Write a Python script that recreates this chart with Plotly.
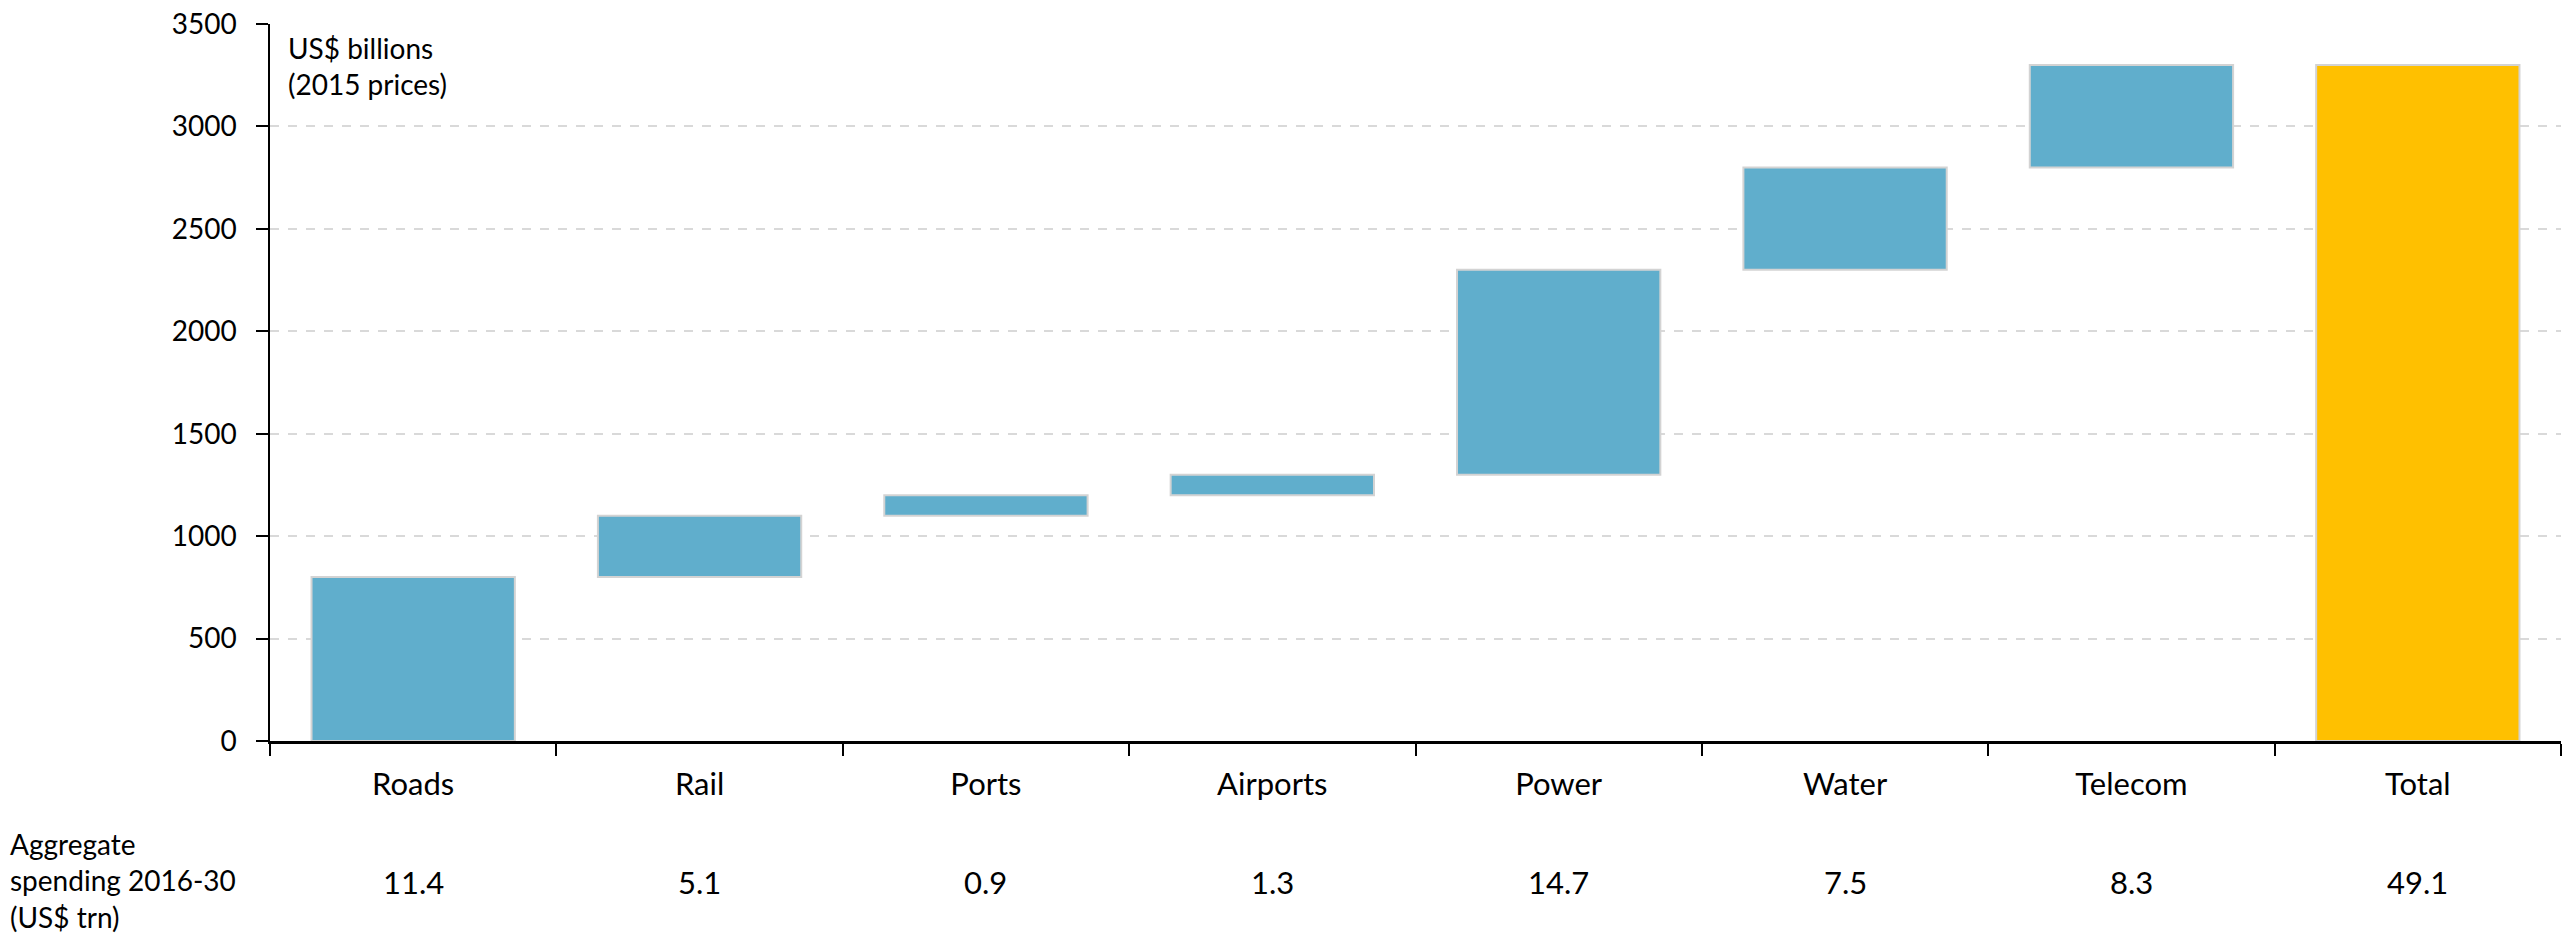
import plotly.graph_objects as go

# Infrastructure investment need by sector (US$ billions, 2015 prices)
categories = ["Roads", "Rail", "Ports", "Airports", "Power", "Water", "Telecom", "Total"]
increments = [800, 300, 100, 100, 1000, 500, 500, 0]
measures = ["relative"] * 7 + ["total"]
aggregate_trn = ["11.4", "5.1", "0.9", "1.3", "14.7", "7.5", "8.3", "49.1"]
y_ticks = [0, 500, 1000, 1500, 2000, 2500, 3000, 3500]

FONT = "Lato"
BLUE = "#60AECC"
GOLD = "#FFC000"
OUTLINE = "#D3D3D3"

fig = go.Figure()
fig.add_trace(go.Waterfall(
    x=categories,
    y=increments,
    measure=measures,
    increasing=dict(marker=dict(color=BLUE, line=dict(color=OUTLINE, width=2))),
    decreasing=dict(marker=dict(color=BLUE, line=dict(color=OUTLINE, width=2))),
    totals=dict(marker=dict(color=GOLD, line=dict(color=OUTLINE, width=2))),
    connector=dict(visible=False),
    width=0.71,
    showlegend=False,
    hoverinfo="x+y",
))

# Row of aggregate spending figures under each category
for cat, val in zip(categories, aggregate_trn):
    fig.add_annotation(
        x=cat, xref="x", y=882, yref="paper", yanchor="middle",
        text=val, showarrow=False,
        font=dict(family=FONT, size=31, color="#000000"),
    )

fig.add_annotation(
    x=8, xref="paper", y=880, yref="paper", xanchor="left", yanchor="middle",
    align="left", showarrow=False,
    text="Aggregate<br>spending 2016-30<br>(US$ trn)",
    font=dict(family=FONT, size=28, color="#000000"),
)

fig.add_annotation(
    x=286, xref="paper", y=66, yref="paper", xanchor="left", yanchor="middle",
    align="left", showarrow=False,
    text="US$ billions<br>(2015 prices)",
    font=dict(family=FONT, size=28, color="#000000"),
)

W, H = 2566, 933
L, R, T, B = 270, 5, 24, 192

# convert pixel positions for paper-referenced annotations
for ann in fig.layout.annotations:
    if ann.xref == "paper":
        ann.x = (ann.x - L) / (W - L - R)
    if ann.yref == "paper":
        ann.y = (H - B - ann.y) / (H - T - B)

fig.update_layout(
    width=W, height=H,
    margin=dict(l=L, r=R, t=T, b=B),
    paper_bgcolor="white",
    plot_bgcolor="white",
    font=dict(family=FONT, size=27, color="#000000"),
    xaxis=dict(
        type="category",
        showline=True, linecolor="#000000", linewidth=3,
        ticks="outside", tickson="boundaries", ticklen=12, tickwidth=1.5, tickcolor="#000000",
        showgrid=False,
        tickfont=dict(family=FONT, size=31, color="#000000"),
        ticklabelstandoff=14,
        zeroline=False,
    ),
    yaxis=dict(
        range=[0, 3500],
        tickvals=y_ticks,
        showline=True, linecolor="#000000", linewidth=1.5,
        ticks="outside", ticklen=12, tickwidth=1.5, tickcolor="#000000",
        showgrid=True, gridcolor="#D9D9D9", gridwidth=1.5, griddash="dash",
        zeroline=False,
        tickfont=dict(family=FONT, size=28, color="#000000"),
        ticklabelstandoff=14,
    ),
)

fig.write_html("out.html")
